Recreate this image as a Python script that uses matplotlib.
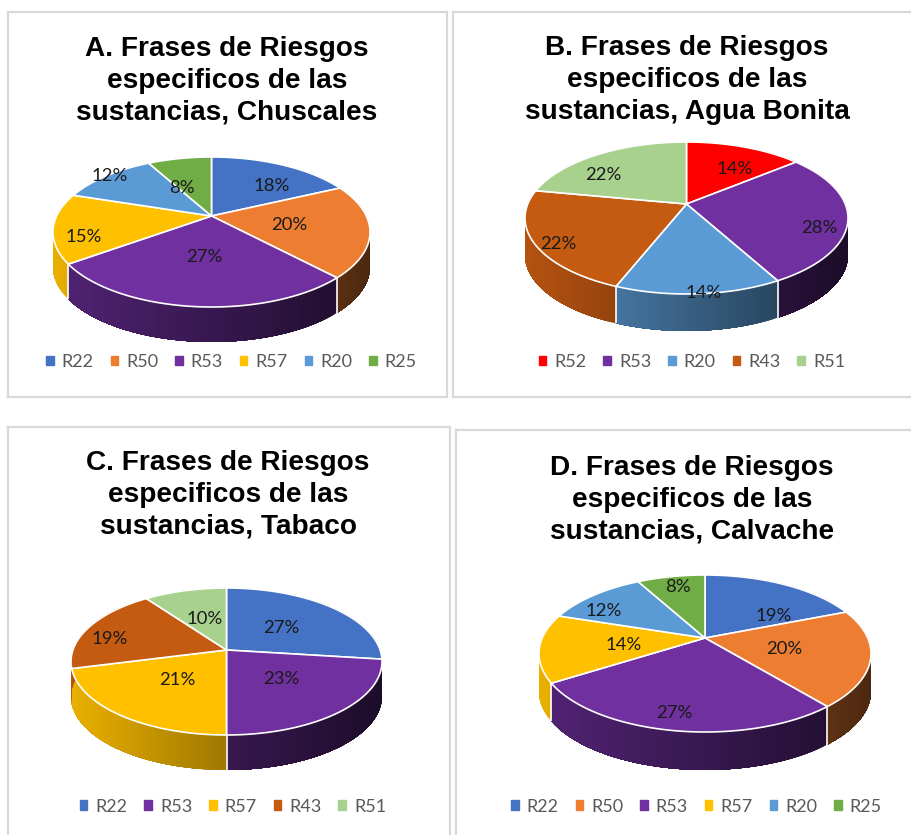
import numpy as np
import matplotlib
matplotlib.use("Agg")
import matplotlib.pyplot as plt
from matplotlib.collections import PolyCollection
from matplotlib.patches import Patch
from matplotlib.colors import to_rgb

# ---- data ----
titles = ["A. Frases de Riesgos\nespecificos de las\nsustancias, Chuscales",
          "B. Frases de Riesgos\nespecificos de las\nsustancias, Agua Bonita",
          "C. Frases de Riesgos\nespecificos de las\nsustancias, Tabaco",
          "D. Frases de Riesgos\nespecificos de las\nsustancias, Calvache"]
cats_a = ["R22", "R50", "R53", "R57", "R20", "R25"]
vals_a = [18, 20, 27, 15, 12, 8]
cats_b = ["R52", "R53", "R20", "R43", "R51"]
vals_b = [14, 28, 14, 22, 22]
cats_c = ["R22", "R53", "R57", "R43", "R51"]
vals_c = [27, 23, 21, 19, 10]
cats_d = ["R22", "R50", "R53", "R57", "R20", "R25"]
vals_d = [19, 20, 27, 14, 12, 8]

# ---- styles / layout (image pixel coordinates) ----
colors = {"R22": "#4472C4", "R50": "#ED7D31", "R53": "#7030A0", "R57": "#FFC000",
          "R20": "#5B9BD5", "R25": "#70AD47", "R52": "#FF0000", "R43": "#C55A11",
          "R51": "#A9D18E"}
side_gain = {"R53": 0.8}
W, H = 912, 835
panels = [(8, 447, 12, 397), (453, 916, 12, 397), (8, 450, 427, 840), (456, 916, 430, 840)]
title_xy = [(227, 81), (687, 80), (228, 495), (692, 500)]
# left, right, top, bottom of the top ellipse, apex y, extrusion depth
geom = [(53, 370, 157, 307, 216, 35), (525, 848, 142, 294, 204, 37),
        (71, 382, 588, 735, 650, 35), (539, 871, 575, 732, 638, 38)]
label_xy = [[(272, 186), (289, 225), (204, 257), (84, 237), (110, 176), (182, 188)],
            [(735, 169), (819, 228), (704, 293), (558, 244), (603, 175)],
            [(281, 628), (281, 679), (177, 680), (110, 639), (205, 619)],
            [(774, 616), (784, 649), (674, 713), (624, 645), (604, 611), (678, 587)]]
legend_xy = [(231.5, 362), (692, 362), (233, 806.5), (696.5, 806.5)]

LABEL_FONT = ["Lato", "DejaVu Sans"]
fig = plt.figure(figsize=(W / 100, H / 100), dpi=100, facecolor="white")


def draw(i, cats, vals):
    l, r, t, b = panels[i]
    ax = fig.add_axes([l / W, 1 - b / H, (r - l) / W, (b - t) / H])
    ax.set_xlim(l, r)
    ax.set_ylim(b, t)
    ax.set_xticks([])
    ax.set_yticks([])
    for s in ax.spines.values():
        s.set_color("#d9d9d9")
        s.set_linewidth(1.6)

    left, right, top, bottom, apex, depth = geom[i]
    up, down = apex - top, bottom - apex
    k = (down - up) / (down + up)
    yr = up * (1 + k)
    cx = (left + right) / 2
    xr = (right - left) / 2 * np.sqrt(1 - k * k)

    def project(th):
        w = 1 + k * np.cos(th)
        return cx + xr * np.sin(th) / w, apex - yr * np.cos(th) / w

    edges = np.cumsum([0] + list(vals)) / sum(vals) * 2 * np.pi
    for c, a0, a1 in zip(cats, edges[:-1], edges[1:]):
        base = np.array(to_rgb(colors[c]))
        th = np.linspace(a0, a1, max(int((a1 - a0) * 40), 2))
        x, y = project(th)
        polys, cols = [], []
        # each band runs to the end of the slice, so later bands paint over seams
        for j in range(len(th) - 1):
            polys.append(np.r_[np.c_[x[j:], y[j:]],
                               np.c_[x[j:][::-1], y[j:][::-1] + depth]])
            u = ((x[j] + x[j + 1]) / 2 - left) / (right - left)
            cols.append(base * (0.92 - 0.6 * u) * side_gain.get(c, 1.0))
        ax.add_collection(PolyCollection(polys, facecolors=cols, edgecolors="none",
                                         linewidths=0, zorder=2))
    for a in edges[:-1]:
        x, y = project(a)
        if abs(x - cx) / ((right - left) / 2) < 0.97:
            ax.plot([x, x], [y, y + depth], color="white", lw=1.2, zorder=3,
                    solid_capstyle="butt")
    for c, a0, a1 in zip(cats, edges[:-1], edges[1:]):
        th = np.linspace(a0, a1, 120)
        x, y = project(th)
        ax.fill(np.r_[cx, x], np.r_[apex, y], facecolor=colors[c], edgecolor="white",
                lw=1.2, joinstyle="round", zorder=4)
    for v, (lx, ly) in zip(vals, label_xy[i]):
        ax.text(lx, ly, f"{v}%", ha="center", va="center", fontsize=13.3,
                family=LABEL_FONT, color="#1a1a1a", zorder=6)

    tx, ty = title_xy[i]
    ax.text(tx, ty, titles[i], ha="center", va="center", fontsize=20.2, fontweight="bold",
            family="Liberation Sans", color="black", linespacing=1.29, zorder=6)

    handles = [Patch(color=colors[c], label=c) for c in cats]
    lx, ly = legend_xy[i]
    ax.legend(handles=handles, ncol=len(cats), frameon=False, loc="center",
              bbox_to_anchor=(lx, ly), bbox_transform=ax.transData,
              prop={"family": LABEL_FONT, "size": 13}, labelcolor="#595959",
              handlelength=0.42, handleheight=0.42, handletextpad=0.45, columnspacing=0.93,
              borderpad=0, borderaxespad=0)


for i, (cats, vals) in enumerate([(cats_a, vals_a), (cats_b, vals_b), (cats_c, vals_c), (cats_d, vals_d)]):
    draw(i, cats, vals)

fig.savefig("out.png", dpi=100)
